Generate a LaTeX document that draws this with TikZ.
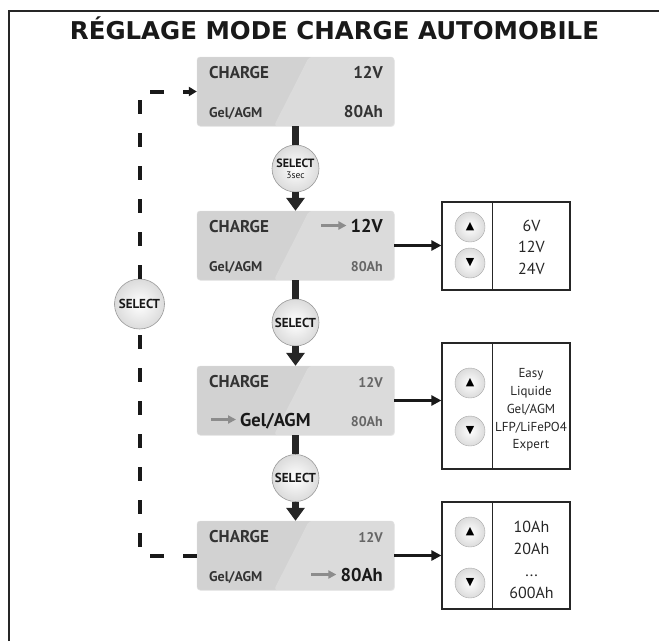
\documentclass[tikz,border=0pt]{standalone}
\usepackage{fontspec}
\setmainfont{PT Sans}
\newfontfamily\titlefont{DejaVu Sans}
\newfontfamily\glyphfont{DejaVu Sans}
\usepackage{xcolor}
\usepackage{tikz}
\usetikzlibrary{arrows.meta, positioning, shadows}

\definecolor{lcdgray}{HTML}{D2D2D2}
\definecolor{txtdark}{HTML}{333333}
\definecolor{txtgray}{HTML}{666666}

\begin{document}
\begin{tikzpicture}[x=1pt, y=-1pt,
  lcd/.style={rectangle, rounded corners=3pt, fill=lcdgray, draw=black!12,
    minimum width=197pt, minimum height=69pt,
    drop shadow={opacity=0.15, shadow xshift=0.8pt, shadow yshift=-0.8pt},
    path picture={\fill[white, opacity=0.22]
      ([xshift=112pt]path picture bounding box.north west) -- (path picture bounding box.north east)
      -- (path picture bounding box.south east) -- ([xshift=77pt]path picture bounding box.south west) -- cycle;}},
  bigtxt/.style={font=\fontsize{17}{17}\selectfont\bfseries, text=txtdark, inner sep=0pt},
  smalltxt/.style={font=\fontsize{14}{14}\selectfont\bfseries, text=txtdark, inner sep=0pt},
  dimtxt/.style={font=\fontsize{14}{14}\selectfont\bfseries, text=txtgray, inner sep=0pt},
  hitxt/.style={font=\fontsize{18.5}{18.5}\selectfont\bfseries, text=black!90, inner sep=0pt},
  selbtn/.style={circle, minimum size=47pt, inner sep=0pt, draw=black!40, semithick,
    inner color=white, outer color=black!14, text=black!90,
    font=\fontsize{13}{12}\selectfont\bfseries, align=center},
  keybtn/.style={circle, minimum size=30pt, inner sep=0pt, draw=black!35,
    inner color=white, outer color=black!14, font=\glyphfont\fontsize{11}{11}\selectfont},
  listbox/.style={rectangle, draw=black!85, line width=1.2pt, minimum width=128pt, inner sep=0pt},
  listtxt/.style={align=center, text=black!85, inner sep=0pt},
  stem/.style={line width=7pt, draw=black!85},
  flow/.style={line width=7pt, draw=black!85, -{Triangle[width=18pt,length=13pt]}},
  toarr/.style={line width=2.6pt, draw=black!90, -{Triangle[width=10pt,length=10pt]}},
  ptr/.style={line width=2.6pt, draw=black!45, -{Triangle[width=8pt,length=8pt]}},
  retline/.style={line width=4pt, draw=black!90, dash pattern=on 14pt off 19pt}
]
  \useasboundingbox (0,0) rectangle (659,641);
  \draw[line width=1.6pt, black!85] (9,641) -- (9,11) -- (659,11);

  \node[font=\titlefont\bfseries\fontsize{24.5}{24.5}\selectfont, text=black!90, anchor=base]
    (title) at (334.5,39) {RÉGLAGE MODE CHARGE AUTOMOBILE};

  % displays
  \node[lcd] (scr1) at (295.5, 91.5) {};
  \node[lcd] (scr2) at (295.5,245.5) {};
  \node[lcd] (scr3) at (295.5,400.5) {};
  \node[lcd] (scr4) at (295.5,555.5) {};

  \node[bigtxt, anchor=base west]   (mode1) at (209, 78) {CHARGE};
  \node[bigtxt, anchor=base east]   (volt1) at (383, 78) {12V};
  \node[smalltxt, anchor=base west] (type1) at (209,117) {Gel/AGM};
  \node[bigtxt, anchor=base east]   (cap1)  at (383,117) {80Ah};

  \node[bigtxt, anchor=base west]   (mode2) at (209,232) {CHARGE};
  \node[hitxt, anchor=base east]    (volt2) at (383,232) {12V};
  \node[smalltxt, anchor=base west] (type2) at (209,271) {Gel/AGM};
  \node[dimtxt, anchor=base east]   (cap2)  at (383,271) {80Ah};

  \node[bigtxt, anchor=base west]   (mode3) at (209,387) {CHARGE};
  \node[dimtxt, anchor=base east]   (volt3) at (383,387) {12V};
  \node[hitxt, anchor=base west]    (type3) at (240,426) {Gel/AGM};
  \node[dimtxt, anchor=base east]   (cap3)  at (383,426) {80Ah};

  \node[bigtxt, anchor=base west]   (mode4) at (209,542) {CHARGE};
  \node[dimtxt, anchor=base east]   (volt4) at (383,542) {12V};
  \node[smalltxt, anchor=base west] (type4) at (209,581) {Gel/AGM};
  \node[hitxt, anchor=base east]    (cap4)  at (383,581) {80Ah};

  \draw[ptr] ([xshift=-29pt, yshift=6.5pt]volt2.base west) -- ([xshift=-4pt, yshift=6.5pt]volt2.base west);
  \draw[ptr] ([xshift=-29pt, yshift=6.5pt]type3.base west) -- ([xshift=-4pt, yshift=6.5pt]type3.base west);
  \draw[ptr] ([xshift=-29pt, yshift=6.5pt]cap4.base west)  -- ([xshift=-4pt, yshift=6.5pt]cap4.base west);

  % select buttons
  \node[selbtn] (sel1) at (295.5,168.5) {\fontsize{12}{10}\selectfont SELECT\\[-1pt]{\mdseries\fontsize{9.5}{9}\selectfont 3sec}};
  \node[selbtn] (sel2) at (295.5,322.5) {SELECT};
  \node[selbtn] (sel3) at (295.5,478)   {SELECT};
  \node[selbtn, minimum size=50pt] (selL) at (139.5,304) {SELECT};

  \draw[stem] (scr1.south) -- (sel1.north);
  \draw[flow] (sel1) -- (scr2);
  \draw[stem] (scr2.south) -- (sel2.north);
  \draw[flow] (sel2) -- (scr3);
  \draw[stem] (scr3.south) -- (sel3.north);
  \draw[flow] (sel3) -- (scr4);

  \draw[retline] (scr4.west) -| (selL.south);
  \draw[retline, -{Triangle[width=9pt,length=8pt]}] (selL.north) |- (scr1.west);

  % choice lists
  \node[listbox, minimum height=88pt]  (list1) at (506,246)   {};
  \node[listbox, minimum height=126pt] (list2) at (506,406)   {};
  \node[listbox, minimum height=107pt] (list3) at (506,555.5) {};
  \draw[line width=1.2pt, black!85] ([xshift=51pt]list1.north west) -- ([xshift=51pt]list1.south west);
  \draw[line width=1.2pt, black!85] ([xshift=51pt]list2.north west) -- ([xshift=51pt]list2.south west);
  \draw[line width=1.2pt, black!85] ([xshift=51pt]list3.north west) -- ([xshift=51pt]list3.south west);

  \node[keybtn] (up1) at (470,227) {▲};
  \node[keybtn] (dn1) at (470,263) {▼};
  \node[keybtn] (up2) at (470,383) {▲};
  \node[keybtn] (dn2) at (470,431) {▼};
  \node[keybtn] (up3) at (470,532) {▲};
  \node[keybtn] (dn3) at (470,583) {▼};

  \node[listtxt, font=\fontsize{16}{21.5}\selectfont] (vals1) at (531.5,247) {6V\\12V\\24V};
  \node[listtxt, font=\fontsize{13}{17.8}\selectfont] (vals2) at (531,410) {Easy\\Liquide\\Gel/AGM\\LFP/LiFePO4\\Expert};
  \node[listtxt, font=\fontsize{16}{22}\selectfont] (vals3) at (531.5,560) {10Ah\\20Ah\\...\\600Ah};

  \draw[toarr] (scr2.east) -- (scr2.east -| list1.west);
  \draw[toarr] (scr3.east) -- (scr3.east -| list2.west);
  \draw[toarr] (scr4.east) -- (scr4.east -| list3.west);
\end{tikzpicture}
\end{document}
